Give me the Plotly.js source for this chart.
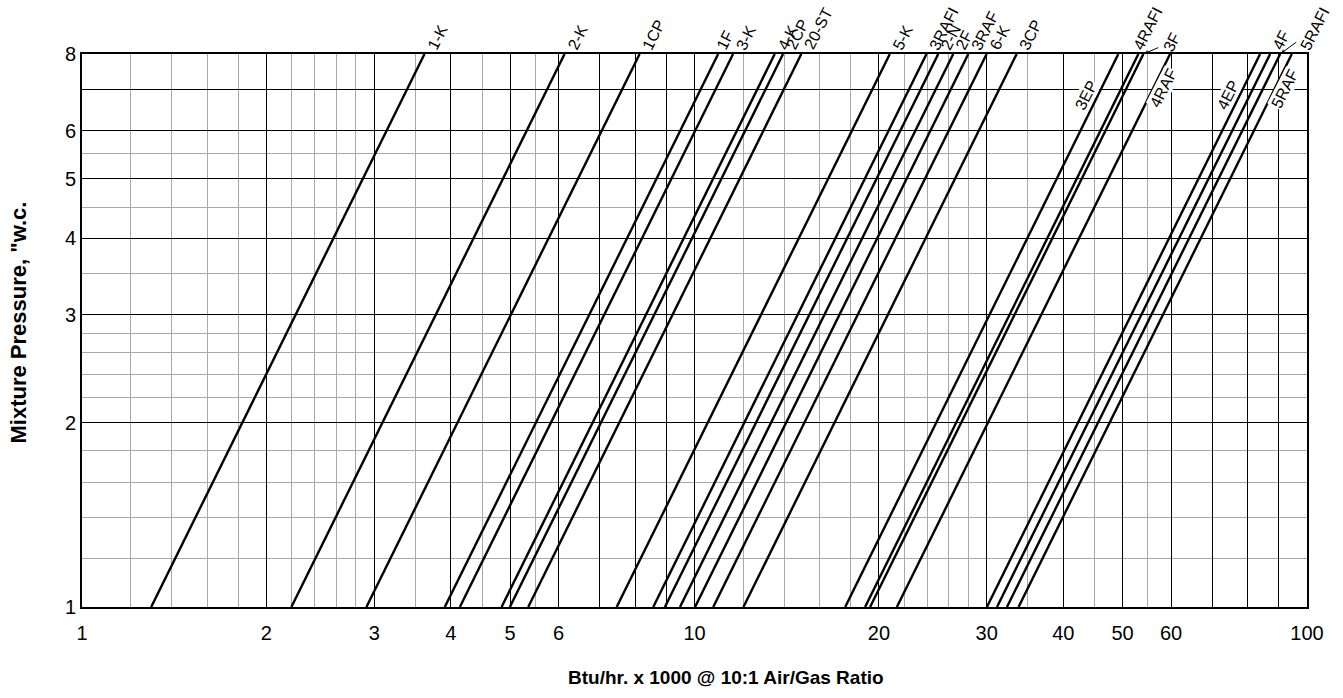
<!DOCTYPE html>
<html>
<head>
<meta charset="utf-8">
<script src="https://cdn.plot.ly/plotly-3.0.1.min.js"></script>
<style>
  html, body { margin: 0; padding: 0; background: #fff; }
  #chart { width: 1343px; height: 698px; }
</style>
</head>
<body>
<div id="chart"></div>
<script>
// ---- data ----
const lineNames = ['1-K','2-K','1CP','1F','3-K','4-K','2CP','20-ST','5-K','3RAFI','2-N','2F','3RAF','6-K','3CP','3EP','4RAFI','3F','4RAF','4EP','4F','5RAFI','5RAF'];
// Btu/hr x 1000 where each line meets 1 "w.c.
const flowAtMinPressure = [1.297,2.197,2.913,3.911,4.139,4.842,4.995,5.352,7.463,8.563,8.947,9.469,10.02,10.73,12.02,17.62,18.99,19.35,21.40,30.02,31.18,32.37,33.81];
// Btu/hr x 1000 where each line meets 8 "w.c.
const flowAtMaxPressure = [3.624,6.136,8.136,10.93,11.56,13.52,13.95,14.94,20.84,23.92,25.00,26.45,27.99,29.99,33.57,49.20,53.05,54.06,59.77,83.84,87.06,90.41,94.45];
const pressureEnds = [1, 8];

const xMajorTicks = [1,2,3,4,5,6,7,8,9,10,20,30,40,50,60,70,80,90,100];
const xMajorLabels = ['1','2','3','4','5','6','','','','10','20','30','40','50','60','','','','100'];
const xMinorTicks = [1.2,1.4,1.6,1.8,2.2,2.4,2.6,2.8,3.5,4.5,5.5,12,14,16,18,22,24,26,28,35,45,55];
const yMajorTicks = [1,2,3,4,5,6,7,8];
const yMajorLabels = ['1','2','3','4','5','6','','8'];
const yMinorTicks = [1.2,1.4,1.6,1.8,2.2,2.4,2.6,2.8,3.5,4.5,5.5];

const xTitle = 'Btu/hr. x 1000 @ 10:1 Air/Gas Ratio';
const yTitle = 'Mixture Pressure, "w.c.';

// ---- label placement (layout only) ----
const labelPlacement = {
  '3EP':  {side: 'left'},
  '4RAF': {side: 'right'},
  '4EP':  {side: 'left'},
  '5RAF': {side: 'right'},
  '3F':   {side: 'arrow', ax: 28, ay: -12},
  '5RAFI':{side: 'arrow', ax: 34, ay: -25},
  '4RAFI':{side: 'top', dx: -8},
  '1F':   {side: 'top', dx: -4}
};

const FONT = 'Liberation Sans, Arial, Helvetica, sans-serif';
const ANG = -63;

const traces = lineNames.map((name, i) => ({
  type: 'scatter',
  mode: 'lines',
  name: name,
  x: [flowAtMinPressure[i], flowAtMaxPressure[i]],
  y: pressureEnds,
  line: {color: '#000', width: 2.4},
  hoverinfo: 'name',
  showlegend: false
}));

function pointAt(i, p) {
  const l1 = Math.log10(flowAtMinPressure[i]);
  const l8 = Math.log10(flowAtMaxPressure[i]);
  const f = (Math.log10(p) - Math.log10(pressureEnds[0])) / (Math.log10(pressureEnds[1]) - Math.log10(pressureEnds[0]));
  return l1 + f * (l8 - l1);
}

const annotations = [];
lineNames.forEach((name, i) => {
  const pl = labelPlacement[name] || {side: 'top'};
  const topX = Math.log10(flowAtMaxPressure[i]);
  const topY = Math.log10(pressureEnds[1]);
  if (pl.side === 'top') {
    annotations.push({
      x: topX, y: topY, xref: 'x', yref: 'y',
      text: name, showarrow: false, textangle: ANG,
      xanchor: 'left', yanchor: 'bottom',
      xshift: (pl.dx || 0) - 3, yshift: -1,
      font: {family: FONT, size: 16, color: '#000'}
    });
  } else if (pl.side === 'arrow') {
    annotations.push({
      x: topX, y: topY, xref: 'x', yref: 'y',
      text: name, showarrow: true, textangle: ANG,
      ax: pl.ax, ay: pl.ay,
      arrowhead: 2, arrowsize: 0.8, arrowwidth: 1, arrowcolor: '#000',
      standoff: 1,
      font: {family: FONT, size: 16, color: '#000'}
    });
  } else {
    const p = pl.side === 'left' ? 6.85 : 7.03;
    annotations.push({
      x: pointAt(i, p), y: Math.log10(p), xref: 'x', yref: 'y',
      text: name, showarrow: false, textangle: ANG,
      xanchor: 'center', yanchor: 'middle',
      xshift: pl.side === 'left' ? -12 : 10,
      bgcolor: '#fff', borderpad: 0,
      font: {family: FONT, size: 16, color: '#000'}
    });
  }
});

// axis titles (placed as in the original)
annotations.push({
  text: xTitle, xref: 'paper', yref: 'paper', x: 0.526, y: -0.128,
  xanchor: 'center', yanchor: 'middle', showarrow: false,
  font: {family: FONT, size: 19, color: '#000', weight: 'bold'}
});
annotations.push({
  text: yTitle, xref: 'paper', yref: 'paper', x: -0.0522, y: 0.5145,
  xanchor: 'center', yanchor: 'middle', showarrow: false, textangle: -90,
  font: {family: FONT, size: 22, color: '#000', weight: 'bold'}
});

const layout = {
  width: 1343, height: 698,
  margin: {l: 82, r: 36, t: 54, b: 91},
  paper_bgcolor: '#fff', plot_bgcolor: '#fff',
  font: {family: FONT, size: 20, color: '#000'},
  showlegend: false,
  xaxis: {
    type: 'log', range: [0, 2],
    tickmode: 'array', tickvals: xMajorTicks, ticktext: xMajorLabels,
    ticks: '', ticklabelstandoff: 7,
    showgrid: true, gridcolor: '#000', gridwidth: 1,
    minor: {tickmode: 'array', tickvals: xMinorTicks, showgrid: true, gridcolor: '#a8a8a8', gridwidth: 1, ticks: ''},
    showline: true, linecolor: '#000', linewidth: 2, mirror: true,
    zeroline: false,
    tickfont: {family: FONT, size: 20, color: '#000'}
  },
  yaxis: {
    type: 'log', range: [0, Math.log10(8)],
    tickmode: 'array', tickvals: yMajorTicks, ticktext: yMajorLabels,
    ticks: '', ticklabelstandoff: 0,
    showgrid: true, gridcolor: '#000', gridwidth: 1,
    minor: {tickmode: 'array', tickvals: yMinorTicks, showgrid: true, gridcolor: '#a8a8a8', gridwidth: 1, ticks: ''},
    showline: true, linecolor: '#000', linewidth: 2, mirror: true,
    zeroline: false,
    tickfont: {family: FONT, size: 20, color: '#000'}
  },
  annotations: annotations
};

Plotly.newPlot('chart', traces, layout, {displayModeBar: false, staticPlot: true});
</script>
</body>
</html>
